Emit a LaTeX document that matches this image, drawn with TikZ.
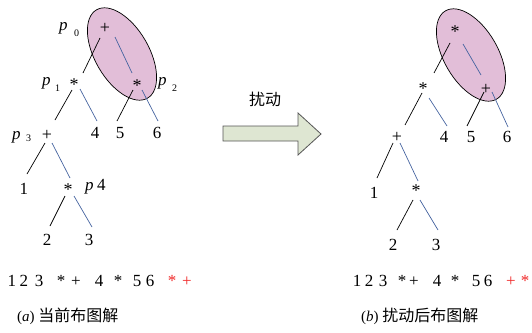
\documentclass[tikz,border=0pt]{standalone}
\usepackage{fontspec}
\setmainfont{Liberation Serif}
\newfontfamily\cjk{Noto Sans CJK SC}
\definecolor{ellfill}{RGB}{226,190,216}
\definecolor{bl}{RGB}{70,100,160}
\definecolor{arrfill}{RGB}{222,230,210}
\definecolor{arrline}{RGB}{85,85,85}
\definecolor{rd}{RGB}{240,40,40}
\begin{document}
\begin{tikzpicture}[x=1pt,y=-1pt,
  num/.style={font=\fontsize{17}{17}\selectfont, inner sep=0pt},
  op/.style={font=\fontsize{18}{18}\selectfont, inner sep=0pt},
  ast/.style={op, yshift=-3pt},
  bk/.style={black, line width=0.7pt},
  bu/.style={bl, line width=0.7pt},
  ell/.style={draw=black, fill=ellfill, line width=0.7pt},
  plab/.style={font=\fontsize{17}{17}\selectfont\itshape, inner sep=0pt, anchor=base west},
  psub/.style={font=\fontsize{10}{10}\selectfont, inner sep=0pt, anchor=base west},
  seq/.style={font=\fontsize{17}{17}\selectfont, inner sep=0pt, anchor=base},
  captext/.style={font=\fontsize{15}{15}\selectfont, inner sep=0pt, anchor=west}]
\useasboundingbox (0,0) rectangle (532,332);

% ellipses
\draw[ell, shift={(122,54)}, rotate=-60] (0,0) ellipse [x radius=51pt, y radius=27pt];
\draw[ell, shift={(471,55)}, rotate=-60] (0,0) ellipse [x radius=51pt, y radius=27pt];

% ---------- left tree ----------
\node[op]  (r)  at (105,28) {+};
\node[ast] (a)  at (74,82) {*};
\node[ast] (b)  at (137,83) {*};
\node[op]  (c)  at (47,135) {+};
\node[num] (n4) at (95,133) {4};
\node[num] (n5) at (120,133) {5};
\node[num] (n6) at (157,133) {6};
\node[num] (n1) at (24,189) {1};
\node[ast] (d)  at (68,187) {*};
\node[num] (n2) at (47,240) {2};
\node[num] (n3) at (89,240) {3};

\draw[bk] ([shift={(-5,10)}]r.center) -- ([shift={(9,-12)}]a.center);
\draw[bu] ([shift={(10,9)}]r.center) -- ([shift={(-5,-13)}]b.center);
\draw[bk] ([shift={(-2,5)}]a.center) -- ([shift={(8,-15)}]c.center);
\draw[bu] ([shift={(6,4)}]a.center) -- ([shift={(2,-12)}]n4.center);
\draw[bk] ([shift={(-4,4)}]b.center) -- ([shift={(-3,-12)}]n5.center);
\draw[bu] ([shift={(5,4)}]b.center) -- ([shift={(1,-12)}]n6.center);
\draw[bk] ([shift={(-2,8)}]c.center) -- ([shift={(3,-15)}]n1.center);
\draw[bu] ([shift={(5,8)}]c.center) -- ([shift={(2,-12)}]d.center);
\draw[bk] ([shift={(-3,6)}]d.center) -- ([shift={(3,-14)}]n2.center);
\draw[bu] ([shift={(6,6)}]d.center) -- ([shift={(3,-13)}]n3.center);

% p labels
\node[plab] (p0) at (59,30) {p};
\node[psub] (p0s) at (74,36) {0};
\node[plab] (p1) at (42,85) {p};
\node[psub] (p1s) at (55,91) {1};
\node[plab] (p2) at (158,85) {p};
\node[psub] (p2s) at (172,91) {2};
\node[plab] (p3) at (12,139) {p};
\node[psub] (p3s) at (26,141) {3};
\node[plab] (p4) at (85,190) {p};
\node[num, anchor=base west] (p4n) at (97,190) {4};

% ---------- right tree ----------
\node[ast] (Rr)  at (455,29) {*};
\node[ast] (Ra)  at (423,86) {*};
\node[op]  (Rb)  at (486,89) {+};
\node[op]  (Rc)  at (397,137) {+};
\node[num] (Rn4) at (444,137) {4};
\node[num] (Rn5) at (471,137) {5};
\node[num] (Rn6) at (507,137) {6};
\node[num] (Rn1) at (374,193) {1};
\node[ast] (Rd)  at (416,188) {*};
\node[num] (Rn2) at (393,245) {2};
\node[num] (Rn3) at (436,245) {3};

\draw[bk] ([shift={(-5,11)}]Rr.center) -- ([shift={(11,-16)}]Ra.center);
\draw[bu] ([shift={(8,12)}]Rr.center) -- ([shift={(-5,-14)}]Rb.center);
\draw[bk] ([shift={(-1,4)}]Ra.center) -- ([shift={(8,-12)}]Rc.center);
\draw[bu] ([shift={(6,9)}]Ra.center) -- ([shift={(3,-11)}]Rn4.center);
\draw[bk] ([shift={(-2,3)}]Rb.center) -- ([shift={(-4,-11)}]Rn5.center);
\draw[bu] ([shift={(6,3)}]Rb.center) -- ([shift={(1,-10)}]Rn6.center);
\draw[bk] ([shift={(-4,6)}]Rc.center) -- ([shift={(3,-15)}]Rn1.center);
\draw[bu] ([shift={(3,6)}]Rc.center) -- ([shift={(2,-10)}]Rd.center);
\draw[bk] ([shift={(-3,9)}]Rd.center) -- ([shift={(4,-15)}]Rn2.center);
\draw[bu] ([shift={(4,9)}]Rd.center) -- ([shift={(2,-15)}]Rn3.center);

% ---------- arrow ----------
\draw[arrline, fill=arrfill, line width=0.8pt] (223,126) -- (298,126) -- (298,113) -- (321,134) -- (298,155) -- (298,141) -- (223,141) -- cycle;
\node[font=\cjk\fontsize{16}{16}\selectfont, inner sep=0pt] (rao) at (265,99) {扰动};

% ---------- sequences ----------
\foreach \x/\t [count=\i] in {12/1,24/2,39/3,61/*,76/+,99/4,118/*,137/5,150/6}
  \node[seq] (sl\i) at (\x,286) {\t};
\node[seq, text=rd] (slr1) at (172,286) {*};
\node[seq, text=rd] (slr2) at (187,286) {+};
\foreach \x/\t [count=\i] in {357/1,369/2,383/3,402/*,414/+,437/4,455/*,476/5,488/6}
  \node[seq] (sr\i) at (\x,286) {\t};
\node[seq, text=rd] (srr1) at (511,286) {+};
\node[seq, text=rd] (srr2) at (525,286) {*};

% ---------- captions ----------
\node[captext] (capa) at (17,316) {(\textit{a}) {\cjk\fontsize{16}{16}\selectfont 当前布图解}};
\node[captext] (capb) at (361,316) {(\textit{b}) {\cjk\fontsize{16}{16}\selectfont 扰动后布图解}};
\end{tikzpicture}
\end{document}
